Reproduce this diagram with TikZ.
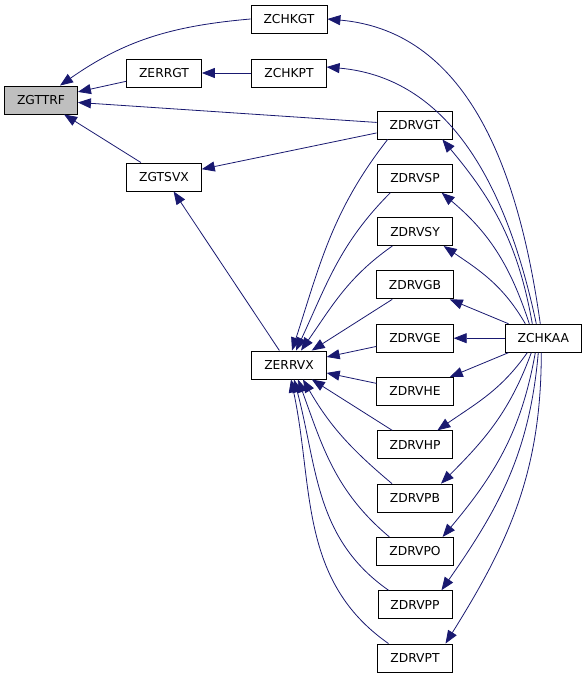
\documentclass[tikz,border=0pt]{standalone}
\usepackage{fontspec}
\setmainfont{DejaVu Sans}
\usetikzlibrary{arrows.meta, positioning}
\definecolor{edgeblue}{RGB}{25,25,112}
\definecolor{nodegray}{RGB}{191,191,191}

\begin{document}
\begin{tikzpicture}[
		x=1pt, y=1pt,
		node distance= {24.4pt},
		func/.style= {
				draw,
				rectangle,
				line width=0.9pt,
				minimum height=28pt,
				inner xsep=12.5pt,
				font=\fontsize{12.3}{14}\selectfont
			},
		myarrow/.style= {
				edgeblue,
				line width=0.8pt,
				-{Triangle[length=13pt, width=10pt]}
			}
	]
	\useasboundingbox (0,0) rectangle (587,-679);

	\node[func, fill=nodegray] (zgttrf) at (41,-100) {ZGTTRF};
	\node[func] (zerrgt) at (164,-73) {ZERRGT};
	\node[func] (zgtsvx) at (164,-177) {ZGTSVX};
	\node[func] (zchkgt) at (289,-19) {ZCHKGT};
	\node[func] (zchkpt) at (289,-73) {ZCHKPT};
	\node[func] (zerrvx) at (289,-365) {ZERRVX};
	\node[func] (zdrvgt) at (415,-125) {ZDRVGT};
	\node[func] (zdrvsp) [below = of zdrvgt] {ZDRVSP};
	\node[func] (zdrvsy) [below = of zdrvsp] {ZDRVSY};
	\node[func] (zdrvgb) [below = of zdrvsy] {ZDRVGB};
	\node[func] (zdrvge) [below = of zdrvgb] {ZDRVGE};
	\node[func] (zdrvhe) [below = of zdrvge] {ZDRVHE};
	\node[func] (zdrvhp) [below = of zdrvhe] {ZDRVHP};
	\node[func] (zdrvpb) [below = of zdrvhp] {ZDRVPB};
	\node[func] (zdrvpo) [below = of zdrvpb] {ZDRVPO};
	\node[func] (zdrvpp) [below = of zdrvpo] {ZDRVPP};
	\node[func] (zdrvpt) [below = of zdrvpp] {ZDRVPT};
	\node[func] (zchkaa) [right = 51pt of zdrvge] {ZCHKAA};

	\draw[myarrow] (zchkgt.west) to[out=185, in=35] ([xshift=19pt]zgttrf.north);
	\draw[myarrow] (zerrgt) -- (zgttrf);
	\draw[myarrow] (zdrvgt) -- (zgttrf);
	\draw[myarrow] (zgtsvx) -- (zgttrf);
	\draw[myarrow] (zchkpt) -- (zerrgt);
	\draw[myarrow] (zdrvgt) -- (zgtsvx);
	\draw[myarrow] (zerrvx) -- (zgtsvx);

	\draw[myarrow] ([xshift=-3pt]zchkaa.north) to[out=98, in=-5] (zchkgt.east);
	\draw[myarrow] ([xshift=-7pt]zchkaa.north) to[out=102, in=-5] ([yshift=6pt]zchkpt.east);
	\draw[myarrow] ([xshift=-11pt]zchkaa.north) to[out=100, in=-50] ([xshift=-11pt]zdrvgt.south east);
	\draw[myarrow] ([xshift=-14pt]zchkaa.north) to[out=108, in=-40] ([xshift=-11pt]zdrvsp.south east);
	\draw[myarrow] ([xshift=-18pt]zchkaa.north) to[out=120, in=-34] ([xshift=-9pt]zdrvsy.south east);
	\draw[myarrow] (zchkaa) -- (zdrvgb);
	\draw[myarrow] (zchkaa) -- (zdrvge);
	\draw[myarrow] (zchkaa) -- (zdrvhe);
	\draw[myarrow] ([xshift=-16pt]zchkaa.south) to[out=-125, in=35] ([xshift=-16pt]zdrvhp.north east);
	\draw[myarrow] ([xshift=-12pt]zchkaa.south) to[out=-110, in=45] ([xshift=-12pt]zdrvpb.north east);
	\draw[myarrow] ([xshift=-8pt]zchkaa.south) to[out=-100, in=50] ([xshift=-11pt]zdrvpo.north east);
	\draw[myarrow] ([xshift=-5pt]zchkaa.south) to[out=-95, in=55] ([xshift=-11pt]zdrvpp.north east);
	\draw[myarrow] ([xshift=-2pt]zchkaa.south) to[out=-90, in=58] ([xshift=-7pt]zdrvpt.north east);

	\draw[myarrow] ([xshift=11pt]zdrvgt.south west) to[out=-128, in=72] ([xshift=3pt]zerrvx.north);
	\draw[myarrow] ([xshift=13pt]zdrvsp.south west) to[out=-135, in=65] ([xshift=7pt]zerrvx.north);
	\draw[myarrow] ([xshift=15pt]zdrvsy.south west) to[out=-145, in=55] ([xshift=12pt]zerrvx.north);
	\draw[myarrow] (zdrvgb) -- (zerrvx);
	\draw[myarrow] (zdrvge) -- (zerrvx);
	\draw[myarrow] (zdrvhe) -- (zerrvx);
	\draw[myarrow] (zdrvhp) -- (zerrvx);
	\draw[myarrow] ([xshift=15pt]zdrvpb.north west) to[out=140, in=-60] ([xshift=14pt]zerrvx.south);
	\draw[myarrow] ([xshift=13pt]zdrvpo.north west) to[out=140, in=-70] ([xshift=9pt]zerrvx.south);
	\draw[myarrow] ([xshift=11pt]zdrvpp.north west) to[out=145, in=-75] ([xshift=5pt]zerrvx.south);
	\draw[myarrow] ([xshift=11pt]zdrvpt.north west) to[out=145, in=-78] ([xshift=2pt]zerrvx.south);
\end{tikzpicture}
\end{document}
